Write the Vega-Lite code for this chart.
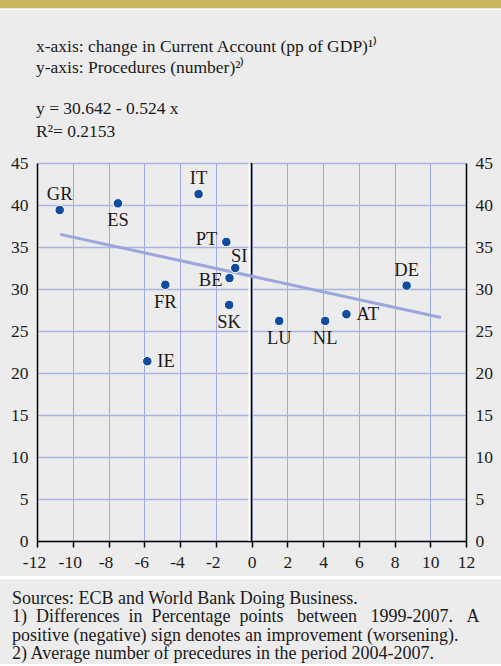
{
  "$schema": "https://vega.github.io/schema/vega-lite/v6.json",
  "background": "#ececec",
  "padding": 0,
  "spacing": 5,
  "config": {
    "view": {"stroke": null},
    "font": "Liberation Serif",
    "axis": {
      "labelFont": "Liberation Serif",
      "labelFontSize": 17.5,
      "labelColor": "#1a1a1a",
      "domainColor": "#000000",
      "domainWidth": 1.5,
      "tickColor": "#000000",
      "title": null
    },
    "title": {"font": "Liberation Serif", "fontWeight": "normal", "color": "#1a1a1a"},
    "text": {"font": "Liberation Serif"}
  },
  "datasets": {
    "countries": [
      {"country": "GR", "ca": -10.73, "procedures": 39.4},
      {"country": "ES", "ca": -7.47, "procedures": 40.2},
      {"country": "IT", "ca": -2.96, "procedures": 41.3},
      {"country": "PT", "ca": -1.41, "procedures": 35.6},
      {"country": "SI", "ca": -0.91, "procedures": 32.5},
      {"country": "BE", "ca": -1.23, "procedures": 31.3},
      {"country": "FR", "ca": -4.82, "procedures": 30.5},
      {"country": "SK", "ca": -1.25, "procedures": 28.1},
      {"country": "IE", "ca": -5.83, "procedures": 21.4},
      {"country": "LU", "ca": 1.55, "procedures": 26.2},
      {"country": "NL", "ca": 4.12, "procedures": 26.2},
      {"country": "AT", "ca": 5.31, "procedures": 27.0},
      {"country": "DE", "ca": 8.68, "procedures": 30.4}
    ],
    "fit": [
      {"ca": -10.7, "procedures": 36.5},
      {"ca": 10.6, "procedures": 26.6}
    ],
    "zero": [{"ca": 0}]
  },
  "vconcat": [
    {
      "width": 501,
      "height": 32,
      "data": {"values": [{"band": "top"}]},
      "layer": [
        {
          "mark": {"type": "rect", "color": "#ffffff", "xOffset": -37, "x2Offset": -37},
          "encoding": {
            "x": {"datum": 0, "type": "quantitative", "scale": {"domain": [0, 1]}, "axis": null},
            "x2": {"datum": 1},
            "y": {"datum": 9, "type": "quantitative", "scale": {"domain": [0, 32], "reverse": true}, "axis": null},
            "y2": {"datum": 11}
          }
        },
        {
          "mark": {"type": "rect", "color": "#c8b55e", "xOffset": -37, "x2Offset": -37},
          "encoding": {
            "x": {"datum": 0, "type": "quantitative"},
            "x2": {"datum": 1},
            "y": {"datum": 0, "type": "quantitative"},
            "y2": {"datum": 9}
          }
        }
      ]
    },
    {
      "width": 429,
      "height": 378,
      "title": {
        "text": ["x-axis: change in Current Account (pp of GDP)¹⁾", "y-axis: Procedures (number)²⁾"],
        "subtitle": ["y = 30.642 - 0.524 x", "R²= 0.2153"],
        "anchor": "start",
        "frame": "group",
        "orient": "top",
        "font": "Liberation Serif",
        "fontSize": 17.5,
        "lineHeight": 21,
        "subtitleFont": "Liberation Serif",
        "subtitleFontSize": 17.5,
        "subtitleLineHeight": 22.5,
        "subtitleColor": "#1a1a1a",
        "subtitlePadding": 24,
        "offset": 14,
        "dx": -1
      },
      "data": {"name": "countries"},
      "encoding": {
        "x": {"field": "ca", "type": "quantitative", "scale": {"domain": [-12, 12], "nice": false, "zero": false},
          "axis": {"values": [-12, -10, -8, -6, -4, -2, 0, 2, 4, 6, 8, 10, 12], "grid": true, "gridColor": "#9eaae0", "gridWidth": 1, "domain": true, "ticks": true, "tickSize": 6, "tickWidth": 1.5, "tickColor": "#000000", "labelPadding": 6, "labelOverlap": false, "labelFlush": false, "labelOffset": {"condition": {"test": "datum.value < 0", "value": -3}, "value": 0}, "labelExpr": "'' + datum.value"}}
      },
      "layer": [
        {
          "data": {"name": "zero"},
          "mark": {"type": "rule", "color": "#ffffff", "strokeWidth": 2, "xOffset": -2},
          "encoding": {}
        },
        {
          "data": {"name": "zero"},
          "mark": {"type": "rule", "color": "#000000", "strokeWidth": 1.5},
          "encoding": {}
        },
        {
          "data": {"name": "fit"},
          "mark": {"type": "line", "color": "#9aa6dc", "strokeWidth": 3},
          "encoding": {
            "y": {"field": "procedures", "type": "quantitative", "scale": {"domain": [0, 45], "nice": false, "zero": false},
              "axis": {"orient": "right", "values": [0, 5, 10, 15, 20, 25, 30, 35, 40, 45], "grid": false, "ticks": false, "domain": true, "labelPadding": 9}}
          }
        },
        {
          "mark": {"type": "circle", "size": 90, "color": "#0f4c9c", "opacity": 1, "stroke": "#ffffff", "strokeWidth": 1},
          "encoding": {
            "y": {"field": "procedures", "type": "quantitative", "scale": {"domain": [0, 45], "nice": false, "zero": false},
              "axis": {"orient": "left", "values": [0, 5, 10, 15, 20, 25, 30, 35, 40, 45], "grid": true, "gridColor": "#aab4e2", "gridWidth": 1.5, "ticks": false, "domain": true, "labelPadding": 9}}
          }
        },
        {
          "transform": [{"filter": {"field": "country", "oneOf": ["GR", "IT", "DE"]}}],
          "mark": {"type": "text", "font": "Liberation Serif", "fontSize": 18.5, "color": "#1a1a1a", "baseline": "middle", "align": "center", "dy": -16},
          "encoding": {
            "y": {"field": "procedures", "type": "quantitative", "scale": {"domain": [0, 45], "nice": false, "zero": false}, "axis": null},
            "text": {"field": "country"}
          }
        },
        {
          "transform": [{"filter": {"field": "country", "oneOf": ["ES", "FR", "SK", "LU", "NL"]}}],
          "mark": {"type": "text", "font": "Liberation Serif", "fontSize": 18.5, "color": "#1a1a1a", "baseline": "middle", "align": "center", "dy": 17},
          "encoding": {
            "y": {"field": "procedures", "type": "quantitative", "scale": {"domain": [0, 45], "nice": false, "zero": false}, "axis": null},
            "text": {"field": "country"}
          }
        },
        {
          "transform": [{"filter": {"field": "country", "oneOf": ["IE", "AT"]}}],
          "mark": {"type": "text", "font": "Liberation Serif", "fontSize": 18.5, "color": "#1a1a1a", "baseline": "middle", "align": "left", "dx": 10},
          "encoding": {
            "y": {"field": "procedures", "type": "quantitative", "scale": {"domain": [0, 45], "nice": false, "zero": false}, "axis": null},
            "text": {"field": "country"}
          }
        },
        {
          "transform": [{"filter": {"field": "country", "equal": "PT"}}],
          "mark": {"type": "text", "font": "Liberation Serif", "fontSize": 18.5, "color": "#1a1a1a", "baseline": "middle", "align": "right", "dx": -9, "dy": -3},
          "encoding": {
            "y": {"field": "procedures", "type": "quantitative", "scale": {"domain": [0, 45], "nice": false, "zero": false}, "axis": null},
            "text": {"field": "country"}
          }
        },
        {
          "transform": [{"filter": {"field": "country", "equal": "BE"}}],
          "mark": {"type": "text", "font": "Liberation Serif", "fontSize": 18.5, "color": "#1a1a1a", "baseline": "middle", "align": "right", "dx": -7, "dy": 2},
          "encoding": {
            "y": {"field": "procedures", "type": "quantitative", "scale": {"domain": [0, 45], "nice": false, "zero": false}, "axis": null},
            "text": {"field": "country"}
          }
        },
        {
          "transform": [{"filter": {"field": "country", "equal": "SI"}}],
          "mark": {"type": "text", "font": "Liberation Serif", "fontSize": 18.5, "color": "#1a1a1a", "baseline": "middle", "align": "center", "dx": 4, "dy": -12},
          "encoding": {
            "y": {"field": "procedures", "type": "quantitative", "scale": {"domain": [0, 45], "nice": false, "zero": false}, "axis": null},
            "text": {"field": "country"}
          }
        }
      ],
      "resolve": {"scale": {"y": "independent"}, "axis": {"y": "independent"}}
    },
    {
      "width": 501,
      "height": 3,
      "data": {"values": [{"band": "bottom"}]},
      "title": {
        "text": ["Sources: ECB and World Bank Doing Business.", "1) \u00a0Differences \u00a0in \u00a0Percentage \u00a0points \u00a0\u00a0between \u00a0\u00a01999-2007. \u00a0\u00a0A", "positive (negative) sign denotes an improvement (worsening).", "2) Average number of precedures in the period 2004-2007."],
        "anchor": "start",
        "frame": "group",
        "orient": "bottom",
        "font": "Liberation Serif",
        "fontSize": 18,
        "lineHeight": 18.4,
        "offset": 11,
        "dx": -25
      },
      "mark": {"type": "rect", "color": "#ffffff", "xOffset": -37, "x2Offset": -37},
      "encoding": {
        "x": {"datum": 0, "type": "quantitative", "scale": {"domain": [0, 1]}, "axis": null},
        "x2": {"datum": 1}
      }
    }
  ]
}
